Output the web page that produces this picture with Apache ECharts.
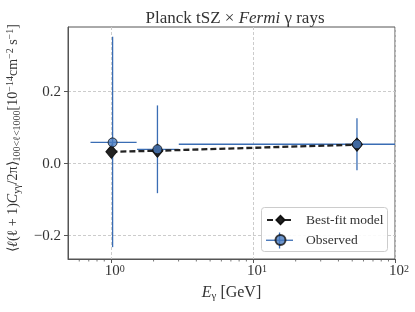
<!DOCTYPE html>
<html><head><meta charset="utf-8">
<script src="https://cdn.jsdelivr.net/npm/echarts@6/dist/echarts.min.js"></script>
<style>html,body{margin:0;padding:0;background:#fff}#c{width:415px;height:312px}</style>
</head><body><div id="c"></div>
<script>
// Observed data (energy in GeV, value in 1e-14 cm^-2 s^-1)
const obsEnergy = [1.03, 2.13, 54];
const obsValues = [0.059, 0.040, 0.054];
const obsLower  = [-0.232, -0.082, -0.018];
const obsUpper  = [0.353, 0.162, 0.126];
const binLow    = [0.72, 1.53, 3.01];
const binHigh   = [1.52, 3.01, 100];
// Best-fit model
const modelEnergy = [1.01, 2.13, 54];
const modelValues = [0.033, 0.036, 0.053];
// Axes
const xTicks = [1, 10, 100];
const xTickExp = ['0', '1', '2'];
const xMinor = [0.6,0.7,0.8,0.9,2,3,4,5,6,7,8,9,20,30,40,50,60,70,80,90];
const yTicks = [-0.2, 0, 0.2];
const yTickLabels = ['\u22120.2', '0.0', '0.2'];
const xMin = 0.5, xMax = 100, yMin = -0.265, yMax = 0.38;

const FONT = 'Liberation Serif';
const BLUE = '#3a6db4';
const TXT = '#333';
const chart = echarts.init(document.getElementById('c'), null, {renderer: 'canvas'});

const errData = obsEnergy.map((e, i) => [e, obsValues[i], binLow[i], binHigh[i], obsLower[i], obsUpper[i]]);

const option = {
  animation: false,
  backgroundColor: '#fff',
  title: {
    text: 'Planck tSZ \u00d7 {it|Fermi} \u03b3 rays',
    left: 230, top: 5, textAlign: 'center',
    textStyle: {fontFamily: FONT, fontSize: 17, fontWeight: 'normal', color: TXT,
      rich: {it: {fontFamily: FONT, fontSize: 17, fontStyle: 'italic', color: TXT}}}
  },
  grid: {left: 68, right: 20, top: 27, bottom: 53, outerBoundsMode: 'none', containLabel: false,
    show: true, borderColor: '#555', borderWidth: 1},
  legend: {
    left: 261, top: 208, orient: 'vertical',
    itemWidth: 27, itemHeight: 10, itemGap: 6,
    padding: [5, 5, 5, 5],
    z: 20,
    textStyle: {fontFamily: FONT, fontSize: 13.5, color: TXT, padding: [0, 0, 0, 7]},
    data: ['Best-fit model', 'Observed']
  },
  graphic: [
    {type: 'rect', left: 261, top: 207, z: 10,
      shape: {width: 126, height: 44, r: 3},
      style: {fill: 'rgba(255,255,255,0.9)', stroke: '#ccc', lineWidth: 1}},
    {type: 'rect', z: 12, shape: {x: 266, y: 239.6, width: 27, height: 1.3}, style: {fill: BLUE}},
    {type: 'rect', z: 12, shape: {x: 278.9, y: 232.5, width: 1.3, height: 16}, style: {fill: BLUE}}
  ],
  xAxis: {
    type: 'log', logBase: 10, min: xMin, max: xMax,
    name: '{it|E}{sub|\u03b3} [GeV]', nameLocation: 'middle', nameGap: 25,
    nameTextStyle: {fontFamily: FONT, fontSize: 16, color: TXT,
      rich: {it: {fontFamily: FONT, fontStyle: 'italic', fontSize: 16, color: TXT, lineHeight: 18},
             sub: {fontFamily: FONT, fontSize: 11, color: TXT, lineHeight: 9, verticalAlign: 'bottom'}}},
    axisLine: {show: true, onZero: false, lineStyle: {color: '#555', width: 1}},
    axisTick: {show: true, length: 4, customValues: xTicks, lineStyle: {color: '#555'}},
    minorTick: {show: false},
    axisLabel: {
      customValues: xTicks, margin: 5,
      formatter: v => { const i = xTicks.findIndex(t => Math.abs(t - v) / t < 1e-6); return '10{sup|' + xTickExp[i] + '}'; },
      fontFamily: FONT, fontSize: 15, color: TXT, padding: [0, 0, 0, 8],
      rich: {sup: {fontFamily: FONT, fontSize: 10, color: TXT, verticalAlign: 'top', lineHeight: 9}}
    },
    splitLine: {show: true, lineStyle: {color: '#ccc', type: [3, 2], width: 1}}
  },
  yAxis: {
    type: 'value', min: yMin, max: yMax,
    name: '\u27e8{it|\u2113}(\u2113 + 1){it|C}{sub|y\u03b3}/2\u03c0\u27e9{sub|100<\u2113<1000}[10{sup|\u221214}cm{sup|\u22122} s{sup|\u22121}]',
    nameLocation: 'middle', nameRotate: 90, nameGap: 46,
    nameTextStyle: {fontFamily: FONT, fontSize: 14, color: TXT, lineHeight: 17, padding: [0, 0, 0, 10],
      rich: {it: {fontFamily: FONT, fontStyle: 'italic', fontSize: 14, color: TXT, lineHeight: 17},
             sub: {fontFamily: FONT, fontSize: 10, color: TXT, lineHeight: 8, verticalAlign: 'bottom'},
             sup: {fontFamily: FONT, fontSize: 10, color: TXT, lineHeight: 8, verticalAlign: 'top'}}},
    axisLine: {show: true, onZero: false, lineStyle: {color: '#555', width: 1}},
    axisTick: {show: true, length: 4, customValues: yTicks, lineStyle: {color: '#555'}},
    axisLabel: {
      customValues: yTicks, margin: 7,
      formatter: v => { const i = yTicks.findIndex(t => Math.abs(t - v) < 1e-9); return yTickLabels[i]; },
      fontFamily: FONT, fontSize: 15, color: TXT
    },
    splitLine: {show: true, lineStyle: {color: '#ccc', type: [3, 2], width: 1}}
  },
  series: [
    {
      name: 'minor', type: 'custom', silent: true, z: 1,
      data: xMinor.map(v => [v, yMin]),
      renderItem: (params, api) => {
        const p = api.coord([api.value(0), api.value(1)]);
        return {type: 'line', shape: {x1: p[0], y1: p[1], x2: p[0], y2: p[1] + 2.5},
          style: {stroke: '#555', lineWidth: 0.8}};
      }
    },
    {
      name: 'Observed-err', type: 'custom', z: 3, silent: true,
      data: errData,
      renderItem: (params, api) => {
        const c = api.coord([api.value(0), api.value(1)]);
        const l = api.coord([api.value(2), api.value(1)]);
        const r = api.coord([api.value(3), api.value(1)]);
        const lo = api.coord([api.value(0), api.value(4)]);
        const hi = api.coord([api.value(0), api.value(5)]);
        return {type: 'group', children: [
          {type: 'line', shape: {x1: l[0], y1: c[1], x2: r[0], y2: c[1]}, style: {stroke: BLUE, lineWidth: 1.3}},
          {type: 'line', shape: {x1: c[0], y1: lo[1], x2: c[0], y2: hi[1]}, style: {stroke: BLUE, lineWidth: 1.3}}
        ]};
      }
    },
    {
      name: 'Best-fit model', type: 'line', z: 4,
      data: modelEnergy.map((e, i) => [e, modelValues[i]]),
      symbol: 'diamond', symbolSize: [11, 13],
      itemStyle: {color: '#222', borderColor: '#111', borderWidth: 1},
      lineStyle: {color: '#222', width: 2.3, type: [6, 3]}
    },
    {
      name: 'Observed', type: 'scatter', z: 5,
      data: obsEnergy.map((e, i) => [e, obsValues[i]]),
      symbol: 'circle', symbolSize: 9,
      itemStyle: {color: '#4a7cc0', borderColor: '#111', borderWidth: 1}
    }
  ]
};
chart.setOption(option);
</script>
</body></html>
